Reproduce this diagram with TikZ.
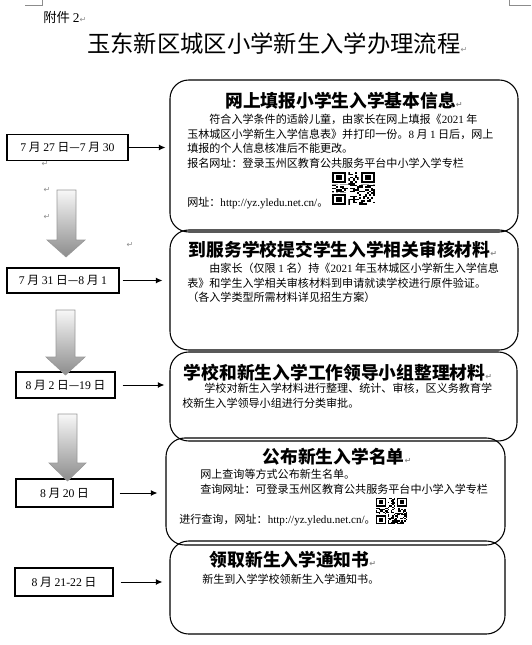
\documentclass[tikz,border=0pt]{standalone}
\usepackage{fontspec}
\setmainfont{Noto Sans CJK SC}
\newfontfamily\lat{Liberation Serif}
\newfontfamily\dejavu{DejaVu Sans}
\usetikzlibrary{arrows.meta}

\newcommand{\retmark}{{\dejavu\fontsize{6}{6}\selectfont\color{black!45}↵}}

\tikzset{
  datebox/.style={draw, line width=0.8pt, inner sep=0pt, font=\fontsize{8.8}{10}\selectfont},
  stepbox/.style={draw, line width=0.8pt, rounded corners=14pt, inner sep=0pt},
  steptitle/.style={inner sep=0pt, font=\fontsize{13.3}{16}\selectfont\bfseries},
  steptext/.style={inner sep=0pt, align=left, anchor=north west, font=\fontsize{8.3}{10.9}\selectfont},
  conn/.style={line width=0.75pt, -{Latex[length=5pt,width=4.5pt]}},
  blockarrow/.style={draw=black!40, line width=0.5pt, top color=black!3, bottom color=black!45},
  pics/qrcode/.style={code={
    \foreach \qi in {0,...,20}{
      \foreach \qj in {0,...,20}{
        \pgfmathtruncatemacro\bit{rnd<0.48}
        \ifnum\bit=1 \fill (\qi,\qj) rectangle ++(1,1); \fi
      }
    }
    \fill[white] (0,0) rectangle (8,8) (13,0) rectangle (21,8) (0,13) rectangle (8,21);
    \foreach \p/\q in {0/0,14/0,0/14}{
      \fill (\p,\q) rectangle ++(7,7);
      \fill[white] (\p+1,\q+1) rectangle ++(5,5);
      \fill (\p+2,\q+2) rectangle ++(3,3);
    }
  }}
}

\begin{document}
\begin{tikzpicture}[x=0.75pt,y=0.75pt,yscale=-1,xscale=1]
\useasboundingbox (0,0) rectangle (531,645);
\pgfmathsetseed{2021}

%page corner marks
\draw[black!45, line width=0.5pt] (25,5) -- (42,5) -- (42,0);
\draw[black!45, line width=0.5pt] (509,0) -- (509,5) -- (531,5);

% Text Node
\node[anchor=west, inner sep=0pt, font=\fontsize{10}{12}\selectfont] (att) at (43,17) {附件 {\lat 2}\retmark};
% Text Node
\node[anchor=west, inner sep=0pt, font=\fontsize{17.5}{20}\selectfont] (title) at (87,44) {玉东新区城区小学新生入学办理流程\retmark};

%Rounded Rects
\node[stepbox, minimum width=261pt, minimum height=114pt] (b1) at (344,156) {};
\node[stepbox, minimum width=261pt, minimum height=90pt] (b2) at (344,290) {};
\node[stepbox, minimum width=260.25pt, minimum height=66.75pt] (b3) at (343.5,396.5) {};
\node[stepbox, minimum width=254.25pt, minimum height=80.25pt] (b4) at (335.5,491.5) {};
\node[stepbox, minimum width=251.25pt, minimum height=69.75pt] (b5) at (337.5,587.5) {};

%Date boxes
\node[datebox, minimum width=90.75pt, minimum height=19.5pt] (d1) at (67.5,147.5) {{\lat 7} 月 {\lat 27} 日—{\lat 7} 月 {\lat 30}};
\node[datebox, minimum width=84pt, minimum height=18.75pt] (d2) at (63,280.5) {{\lat 7} 月 {\lat 31} 日—{\lat 8} 月 {\lat 1}};
\node[datebox, minimum width=74.25pt, minimum height=19.5pt] (d3) at (65.5,385) {{\lat 8} 月 {\lat 2} 日—{\lat 19} 日};
\node[datebox, minimum width=72.75pt, minimum height=21pt] (d4) at (64.5,493) {{\lat 8} 月 {\lat 20} 日};
\node[datebox, minimum width=73.5pt, minimum height=21pt] (d5) at (64,582) {{\lat 8} 月 {\lat 21-22} 日};

%Straight Lines
\draw[conn, shorten >=3pt] (d1.east) -- (d1.east -| b1.west);
\draw[conn, shorten <=2.25pt, shorten >=5.25pt] (d2.east) -- (d2.east -| b2.west);
\draw[conn, shorten <=5.25pt, shorten >=3.75pt] (d3.east) -- (d3.east -| b3.west);
\draw[conn, shorten <=4.5pt, shorten >=6pt] (d4.east) -- (d4.east -| b4.west);
\draw[conn, shorten <=5.25pt, shorten >=5.25pt] (d5.east) -- (d5.east -| b5.west);

% Text Node
\node[steptitle] (h1) at (344,101) {网上填报小学生入学基本信息\retmark};
\node[steptext] (t1) at (187,114) {\hspace*{2em}符合入学条件的适龄儿童，由家长在网上填报《{\lat 2021} 年\\
玉林城区小学新生入学信息表》并打印一份。{\lat 8} 月 {\lat 1} 日后，网上\\
填报的个人信息核准后不能更改。\\
报名网址：登录玉州区教育公共服务平台中小学入学专栏};
\node[steptext, anchor=west] (u1) at (187,203) {网址：{\lat http://yz.yledu.net.cn/}。};
\pic[xscale=2.05, yscale=-1.57] at (332,172) {qrcode};

% Text Node
\node[steptitle] (h2) at (343,250) {到服务学校提交学生入学相关审核材料\retmark};
\node[steptext] (t2) at (187,263) {\hspace*{2em}由家长（仅限 {\lat 1} 名）持《{\lat 2021} 年玉林城区小学新生入学信息\\
表》和学生入学相关审核材料到申请就读学校进行原件验证。\\
（各入学类型所需材料详见招生方案）};

% Text Node
\node[steptitle] (h3) at (338,373) {学校和新生入学工作领导小组整理材料\retmark};
\node[steptext] (t3) at (182,383) {\hspace*{2em}学校对新生入学材料进行整理、统计、审核，区义务教育学\\
校新生入学领导小组进行分类审批。};

% Text Node
\node[steptitle] (h4) at (337,457) {公布新生入学名单\retmark};
\node[steptext] (t4) at (200,469) {网上查询等方式公布新生名单。\\
查询网址：可登录玉州区教育公共服务平台中小学入学专栏};
\node[steptext, anchor=west] (u4) at (179,520) {进行查询，网址：{\lat http://yz.yledu.net.cn/}。};
\pic[xscale=1.48, yscale=-1.24] at (376,498) {qrcode};

% Text Node
\node[steptitle] (h5) at (293,560) {领取新生入学通知书\retmark};
\node[steptext] (t5) at (202,574) {新生到入学学校领新生入学通知书。};

%return marks
\node[inner sep=0pt] (r1) at (45,164) {\retmark};
\node[inner sep=0pt] (r2) at (47,190) {\retmark};
\node[inner sep=0pt] (r3) at (47,217) {\retmark};
\node[inner sep=0pt] (r4) at (130,245) {\retmark};

%Block arrows
\shade[blockarrow] (57,190) -- (76,190) -- (76,240) -- (85,240) -- (66,257) -- (47,240) -- (57,240) -- cycle;
\shade[blockarrow] (56,310) -- (75,310) -- (75,357) -- (85,357) -- (65.5,375) -- (46,357) -- (56,357) -- cycle;
\shade[blockarrow] (58,414) -- (77,414) -- (77,463) -- (86,463) -- (67.5,481) -- (49,463) -- (58,463) -- cycle;

\end{tikzpicture}
\end{document}
